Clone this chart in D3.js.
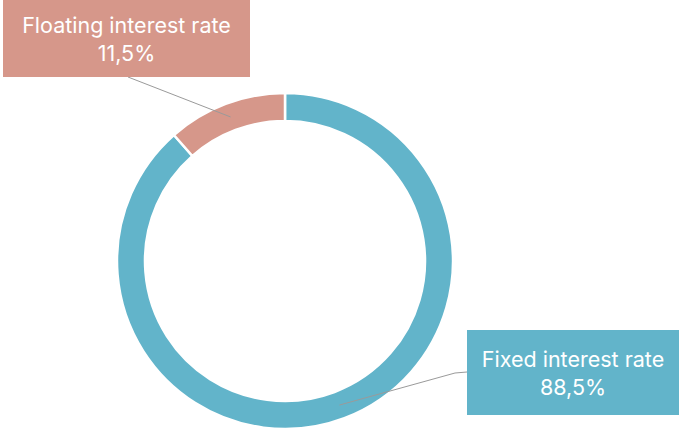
<!DOCTYPE html>
<html><head><meta charset="utf-8">
<script src="https://cdn.jsdelivr.net/npm/d3@7"></script>
<style>html,body{margin:0;padding:0;background:#fff;}svg{display:block;}</style>
</head><body>
<svg id="chart" width="679" height="434"></svg>
<script>
const categories = ["Fixed interest rate", "Floating interest rate"];
const values = [88.5, 11.5];
const valueLabels = ["88,5%", "11,5%"];
const colors = ["#62B4CA", "#D6978A"];

const svg = d3.select("#chart");
const cx = 285, cy = 261, outerR = 168, innerR = 140;
const g = svg.append("g").attr("transform", `translate(${cx},${cy})`);

const pie = d3.pie().sort(null).value(d => d.v);
const data = pie(categories.map((c, i) => ({c, v: values[i], label: valueLabels[i], color: colors[i]})));
const arc = d3.arc().innerRadius(innerR).outerRadius(outerR);

g.selectAll("path.slice").data(data).enter().append("path")
  .attr("class", "slice")
  .attr("d", arc)
  .attr("fill", d => d.data.color)
  .attr("stroke", "#fff")
  .attr("stroke-width", 2.5);

// label boxes
const boxes = [
  {x: 467, y: 330, w: 212, h: 85, anchor: [[467, 372], [455, 373]]},
  {x: 3, y: 0, w: 247, h: 77, anchor: [[128, 77]]}
];

data.forEach((d, i) => {
  const b = boxes[i];
  const c = arc.centroid(d);
  const pts = b.anchor.concat([[cx + c[0], cy + c[1]]]);
  svg.append("path")
    .attr("d", d3.line()(pts))
    .attr("fill", "none")
    .attr("stroke", "#9a9a9a")
    .attr("stroke-width", 1);
});

data.forEach((d, i) => {
  const b = boxes[i];
  svg.append("rect").attr("x", b.x).attr("y", b.y).attr("width", b.w).attr("height", b.h)
    .attr("fill", d.data.color);
  const t = svg.append("text")
    .attr("x", b.x + b.w / 2)
    .attr("text-anchor", "middle")
    .attr("fill", "#fff")
    .attr("font-family", "Inter, 'Noto Sans', sans-serif")
    .attr("font-size", 21.5);
  t.append("tspan").attr("x", b.x + b.w / 2).attr("y", b.y + b.h / 2 - 6).text(d.data.c);
  t.append("tspan").attr("x", b.x + b.w / 2).attr("y", b.y + b.h / 2 + 22).text(d.data.label);
});
</script>
</body></html>
